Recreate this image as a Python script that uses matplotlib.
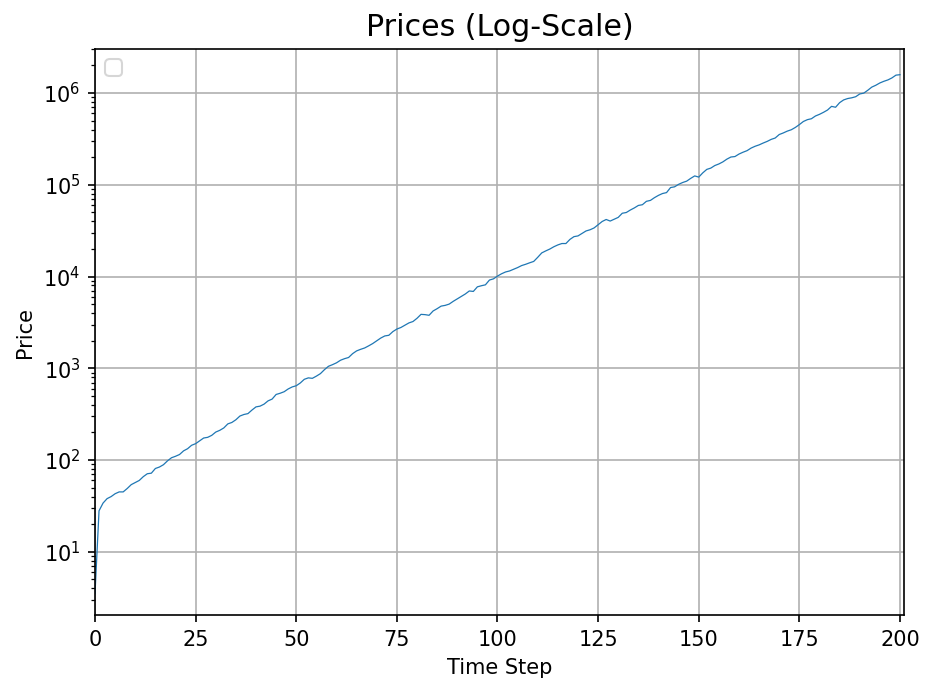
import matplotlib
matplotlib.use("Agg")
import matplotlib.pyplot as plt
import numpy as np

time_steps = list(range(201))
prices = [
    3.5, 28, 34, 38, 40, 43, 45, 45, 49, 54,
    57, 60, 66, 71, 72, 81, 84, 89, 98, 106,
    110, 115, 126, 133, 145, 151, 162, 174, 177, 186,
    202, 211, 224, 248, 257, 275, 302, 314, 321, 351,
    380, 387, 407, 442, 462, 519, 535, 556, 596, 627,
    646, 692, 759, 787, 778, 822, 875, 966, 1052, 1096,
    1148, 1225, 1274, 1312, 1445, 1549, 1611, 1667, 1758, 1862,
    1995, 2138, 2254, 2291, 2512, 2679, 2786, 2951, 3126, 3236,
    3508, 3873, 3846, 3784, 4217, 4467, 4764, 4853, 5012, 5370,
    5715, 6095, 6457, 6966, 6887, 7727, 7943, 8128, 9162, 9441,
    10120, 10720, 11220, 11510, 12020, 12530, 13180, 13610, 14130, 14620,
    16220, 18110, 19050, 19950, 21130, 22130, 22910, 22910, 25410, 27230,
    27730, 29510, 31410, 32360, 33880, 36730, 39810, 41880, 40270, 42170,
    44160, 48980, 49890, 53090, 55980, 59570, 60670, 66070, 67610, 72440,
    76740, 80350, 82220, 93330, 95060, 101200, 105900, 109600, 117500, 125000,
    121300, 134900, 147200, 152100, 162200, 168700, 177800, 190500, 200900, 203200,
    216300, 226500, 235500, 251200, 263000, 272300, 285100, 297200, 312600, 323600,
    353200, 367300, 384600, 398100, 421700, 452900, 489800, 512900, 524800, 562300,
    586100, 616600, 653100, 716100, 699800, 785200, 841400, 871000, 887200, 912000,
    977200, 997700, 1072000, 1161000, 1216000, 1288000, 1343000, 1390000, 1462000, 1567000,
    1585000,
]

title = "Prices (Log-Scale)"
xlabel = "Time Step"
ylabel = "Price"

fig = plt.figure(figsize=(935 / 150, 694 / 150), dpi=150)
ax = fig.add_axes([95 / 935, 1 - 615 / 694, (904 - 95) / 935, (615 - 49) / 694])
ax.plot(time_steps, prices, color="#1f77b4", linewidth=0.6)
ax.set_yscale("log")
ax.set_xlim(0, 201)
ax.set_ylim(2.05, 3.02e6)
ax.set_xticks([0, 25, 50, 75, 100, 125, 150, 175, 200])
ax.grid(True, which="major", color="#b0b0b0", linewidth=0.8)
ax.set_title(title, fontsize=14.4)
ax.set_xlabel(xlabel)
ax.set_ylabel(ylabel)
ax.legend(handles=[], labels=[], loc="upper left")
fig.savefig("out.png", dpi=150)
